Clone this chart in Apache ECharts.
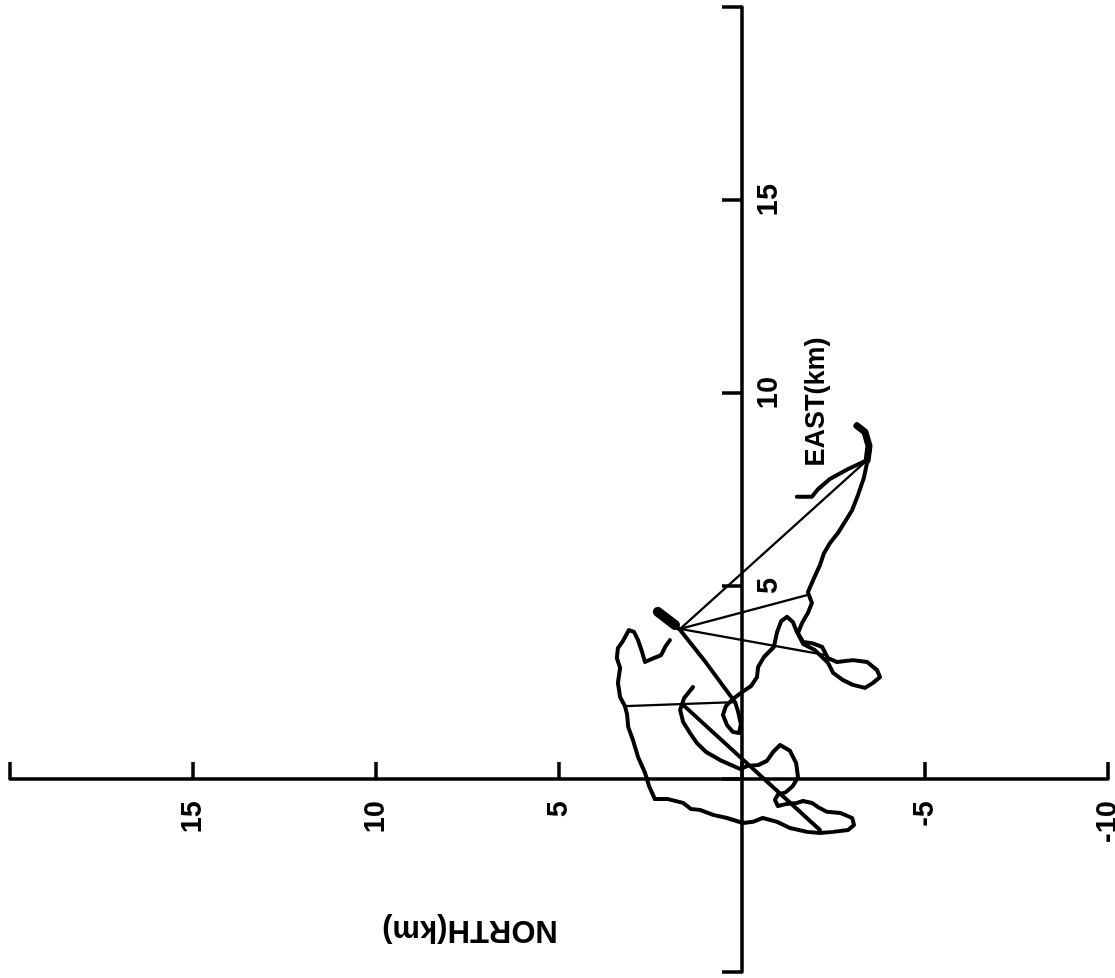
<!DOCTYPE html>
<html>
<head>
<meta charset="utf-8">
<script src="https://cdn.jsdelivr.net/npm/echarts@6/dist/echarts.min.js"></script>
<style>
html,body{margin:0;padding:0;background:#fff;}
#chart{width:1115px;height:978px;}
</style>
</head>
<body>
<div id="chart"></div>
<script>
// Axis tick labels (km)
const northTickLabels = [15, 10, 5, -5, -10];
const eastTickLabels = [5, 10, 15];

// Trajectory pieces: [north km, east km]
const trackA = [
  [-1.50,7.31],[-1.91,7.31],[-2.08,7.51],[-2.40,7.77],[-2.90,8.03],[-3.42,8.26],
  [-3.47,8.63],[-3.36,8.99],[-3.14,9.15],[-3.39,8.94],[-3.50,8.58],[-3.42,8.21],
  [-3.33,7.80],[-3.17,7.36],[-3.01,6.97],[-2.81,6.66],[-2.62,6.37],[-2.40,6.11],
  [-2.24,5.85],[-2.13,5.54],[-1.97,5.21],[-1.80,4.84],[-1.91,4.56],[-1.80,4.30],
  [-1.64,4.04],[-1.53,3.78],[-1.67,3.55],[-1.91,3.52],[-2.19,3.42],[-2.35,3.13],
  [-2.60,3.03],[-3.03,3.08],[-3.42,3.03],[-3.69,2.82],[-3.77,2.64],[-3.58,2.49],
  [-3.36,2.36],[-3.03,2.44],[-2.76,2.56],[-2.49,2.75],[-2.35,3.01],[-1.99,3.34],
  [-1.67,3.50],[-1.50,3.81],[-1.39,4.07],[-1.23,4.20],[-1.07,4.09],[-0.96,3.81],
  [-0.87,3.42],[-0.60,3.16],[-0.44,2.90],[-0.41,2.64],[-0.25,2.41],[0.00,2.25],
  [0.25,2.07],[0.44,1.89],[0.52,1.66],[0.41,1.40],[0.25,1.22],[0.08,1.19],
  [0.03,1.42],[0.11,1.76],[0.19,1.99],[0.98,3.01],[1.69,3.86],[2.02,4.09],[2.30,4.30]
];
const trackC = [
  [1.97,3.60],[2.10,3.42],[2.21,3.21],[2.46,3.11],[2.65,3.03],[2.73,3.29],[2.84,3.60],
  [2.95,3.81],[3.09,3.86],[3.25,3.58],[3.39,3.39],[3.42,3.13],[3.33,2.88],[3.39,2.49],
  [3.33,2.12],[3.20,1.89],[3.14,1.68],[3.11,1.35],[2.98,1.01],[2.84,0.57],[2.65,0.16],
  [2.54,-0.18],[2.38,-0.52],[2.02,-0.52],[1.61,-0.62],[1.39,-0.78],[1.15,-0.80],
  [0.79,-0.93],[0.41,-1.01],[-0.03,-1.14],[-0.30,-1.11],[-0.57,-1.01],[-0.96,-1.11],
  [-1.31,-1.27],[-1.78,-1.37],[-2.13,-1.40],[-2.49,-1.37],[-2.90,-1.32],[-3.06,-1.19],
  [-3.01,-1.01],[-2.68,-0.88],[-2.32,-0.85],[-2.08,-0.73],[-1.91,-0.62],[-1.67,-0.57],
  [-1.50,-0.62],[-1.20,-0.65],[-0.98,-0.70],[-0.90,-0.54],[-0.98,-0.41],[-1.20,-0.34],
  [-1.39,-0.18],[-1.53,0.05],[-1.48,0.41],[-1.31,0.73],[-1.04,0.88],[-0.85,0.70],
  [-0.68,0.47],[-0.44,0.36],[-0.16,0.34],[0.05,0.26],[0.60,0.49],[0.98,0.70],
  [1.23,0.93],[1.42,1.19],[1.61,1.48],[1.69,1.79],[1.58,2.10],[1.34,2.38]
];
const hook = [[-3.14,9.15],[-3.36,8.99],[-3.47,8.63],[-3.42,8.26]];
const blob = [[2.30,4.33],[1.83,3.99]];
const diagonal = [[1.61,1.92],[-2.13,-1.32]];
const connector = [[3.20,1.89],[0.19,1.99]];
const hub = [1.69,3.89];
const rayEnds = [[-3.42,8.26],[-1.80,4.77],[-2.30,3.21]];

const FONT = 'Liberation Sans, Arial, sans-serif';
const N_MIN = -10, N_MAX = 20, E_MIN = -5, E_MAX = 20;

function lineSeries(data, width) {
  return {
    type: 'line', xAxisIndex: 0, yAxisIndex: 0, data: data, showSymbol: false, symbol: 'none',
    smooth: false, silent: true, animation: false, clip: false,
    lineStyle: { color: '#000', width: width, cap: 'round', join: 'round' }
  };
}

const series = [
  lineSeries(trackA, 4),
  lineSeries(trackC, 4),
  lineSeries(hook, 7),
  lineSeries(blob, 10),
  lineSeries(diagonal, 4),
  lineSeries(connector, 2.2)
];
rayEnds.forEach(function (p) { series.push(lineSeries([hub, p], 2.2)); });

const hidden = { show: false };
const axisLineStyle = { color: '#000', width: 3.5 };

const chart = echarts.init(document.getElementById('chart'), null, { renderer: 'canvas' });
chart.setOption({
  backgroundColor: '#fff',
  animation: false,
  grid: [
    // data area
    { left: 10, right: 7, top: 7, bottom: 6, containLabel: false, outerBoundsMode: 'none' },
    // horizontal (NORTH) axis placed at EAST = 0
    { left: 10, right: 7, top: 7, bottom: 199, containLabel: false, outerBoundsMode: 'none' },
    // vertical (EAST) axis placed at NORTH = 0
    { left: 742, right: 7, top: 7, bottom: 6, containLabel: false, outerBoundsMode: 'none' }
  ],
  xAxis: [
    { gridIndex: 0, type: 'value', min: N_MIN, max: N_MAX, inverse: true, show: false },
    {
      gridIndex: 1, type: 'value', min: N_MIN, max: N_MAX, interval: 5, inverse: true, position: 'bottom',
      axisLine: { show: true, onZero: false, lineStyle: axisLineStyle },
      axisTick: { show: true, inside: true, length: 17, lineStyle: axisLineStyle },
      splitLine: hidden,
      axisLabel: {
        rotate: 90, margin: 22, color: '#000', fontSize: 29, fontWeight: 'bold', fontFamily: FONT,
        formatter: function (v) { return northTickLabels.indexOf(v) >= 0 ? String(v) : ''; }
      }
    },
    { gridIndex: 2, type: 'value', min: 0, max: 10, show: false }
  ],
  yAxis: [
    { gridIndex: 0, type: 'value', min: E_MIN, max: E_MAX, show: false },
    { gridIndex: 1, type: 'value', min: 0, max: 10, show: false },
    {
      gridIndex: 2, type: 'value', min: E_MIN, max: E_MAX, interval: 5, position: 'left',
      axisLine: { show: true, onZero: false, lineStyle: axisLineStyle },
      axisTick: { show: true, inside: false, length: 20, lineStyle: axisLineStyle },
      splitLine: hidden,
      axisLabel: {
        inside: true, rotate: 90, margin: 12, color: '#000', fontSize: 29, fontWeight: 'bold', fontFamily: FONT,
        formatter: function (v) { return eastTickLabels.indexOf(v) >= 0 ? String(v) : ''; }
      }
    }
  ],
  graphic: [
    { type: 'text', x: 817, y: 402, rotation: Math.PI / 2,
      style: { text: 'EAST(km)', fill: '#000', font: 'bold 27px ' + FONT, align: 'center', verticalAlign: 'middle' } },
    { type: 'text', x: 470, y: 930, rotation: Math.PI,
      style: { text: 'NORTH(km)', fill: '#000', font: 'bold 31px ' + FONT, align: 'center', verticalAlign: 'middle' } }
  ],
  series: series
});
</script>
</body>
</html>
